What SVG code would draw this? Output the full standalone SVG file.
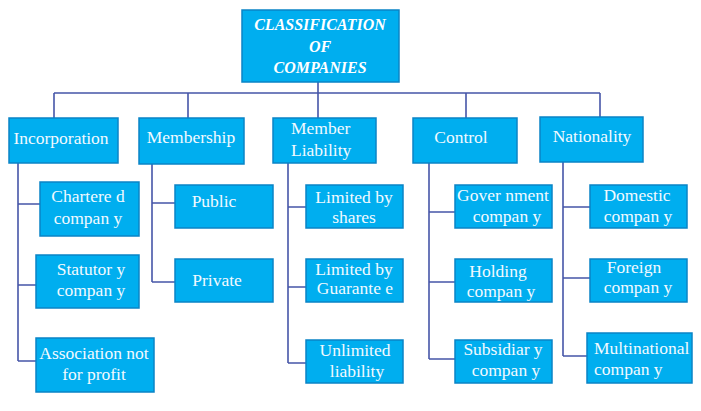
<svg xmlns="http://www.w3.org/2000/svg" width="701" height="411" viewBox="0 0 701 411">
<style>
.box{fill:#00AEEF;stroke:#0A84C6;stroke-width:1.5}
.t{font-family:"Liberation Serif","DejaVu Serif",serif;font-size:17.5px;fill:#F2FAFF}
.c{text-anchor:middle}
.title{font-family:"Liberation Serif","DejaVu Serif",serif;font-size:16px;font-weight:bold;font-style:italic;fill:#FFFFFF;text-anchor:middle}
.ln{fill:none;stroke:#4656A8;stroke-width:1.6}
</style>
<rect width="701" height="411" fill="#FFFFFF"/>
<g id="connectors" class="ln">
<path d="M318 82V93M54 93H600M54 93V118M188 93V118M318 93V118M466 93V118M600 93V117"/>
<path d="M18 163V361M18 204H40M18 285H36M18 361H36"/>
<path d="M152 164V282M152 203H175M152 282H175"/>
<path d="M288 163V363M288 207H306M288 287H306M288 363H306"/>
<path d="M429 163V359M429 212H455M429 282H455M429 359H455"/>
<path d="M563 162V356M563 207H590M563 278H590M563 356H587"/>
</g>
<g id="root"><rect class="box" x="242" y="10" width="157" height="72"/>
<text class="title" x="320" y="30">CLASSIFICATION</text><text class="title" x="320" y="52">OF</text><text class="title" x="320" y="73">COMPANIES</text></g>
<g id="incorporation"><rect class="box" x="9" y="118" width="109" height="45"/><text class="t c" x="61" y="144">Incorporation</text></g>
<g id="membership"><rect class="box" x="139" y="118" width="105" height="46"/><text class="t c" x="191" y="143">Membership</text></g>
<g id="memberliability"><rect class="box" x="273" y="118" width="103" height="45"/><text class="t" x="291" y="134">Member</text><text class="t" x="291" y="156">Liability</text></g>
<g id="control"><rect class="box" x="413" y="118" width="104" height="45"/><text class="t c" x="461" y="143">Control</text></g>
<g id="nationality"><rect class="box" x="540" y="117" width="103" height="45"/><text class="t c" x="592" y="142">Nationality</text></g>
<g id="chartered"><rect class="box" x="40" y="182" width="99" height="54"/><text class="t c" x="88" y="202">Chartere d</text><text class="t c" x="88" y="224">compan y</text></g>
<g id="statutory"><rect class="box" x="36" y="255" width="103" height="53"/><text class="t c" x="91" y="275">Statutor y</text><text class="t c" x="91" y="296">compan y</text></g>
<g id="association"><rect class="box" x="36" y="338" width="118" height="54"/><text class="t c" x="94" y="359">Association not</text><text class="t c" x="94" y="380">for profit</text></g>
<g id="public"><rect class="box" x="175" y="185" width="98" height="43"/><text class="t c" x="214" y="207">Public</text></g>
<g id="private"><rect class="box" x="175" y="259" width="98" height="43"/><text class="t c" x="217" y="286">Private</text></g>
<g id="shares"><rect class="box" x="306" y="185" width="97" height="43"/><text class="t c" x="354" y="203">Limited by</text><text class="t c" x="354" y="223">shares</text></g>
<g id="guarantee"><rect class="box" x="306" y="259" width="97" height="43"/><text class="t c" x="354" y="275">Limited by</text><text class="t c" x="355" y="294">Guarante e</text></g>
<g id="unlimited"><rect class="box" x="306" y="340" width="97" height="43"/><text class="t c" x="355" y="356">Unlimited</text><text class="t c" x="357" y="377">liability</text></g>
<g id="government"><rect class="box" x="455" y="185" width="97" height="43"/><text class="t c" x="503" y="201">Gover nment</text><text class="t c" x="507" y="222">compan y</text></g>
<g id="holding"><rect class="box" x="455" y="259" width="97" height="43"/><text class="t c" x="498" y="277">Holding</text><text class="t c" x="501" y="297">compan y</text></g>
<g id="subsidiary"><rect class="box" x="455" y="340" width="97" height="43"/><text class="t c" x="503" y="355">Subsidiar y</text><text class="t c" x="506" y="376">compan y</text></g>
<g id="domestic"><rect class="box" x="590" y="185" width="97" height="43"/><text class="t c" x="637" y="201">Domestic</text><text class="t c" x="638" y="222">compan y</text></g>
<g id="foreign"><rect class="box" x="590" y="259" width="97" height="43"/><text class="t c" x="634" y="273">Foreign</text><text class="t c" x="638" y="293">compan y</text></g>
<g id="multinational"><rect class="box" x="587" y="333" width="105" height="50"/><text class="t" x="594" y="354">Multinational</text><text class="t" x="594" y="375">compan y</text></g>
</svg>
